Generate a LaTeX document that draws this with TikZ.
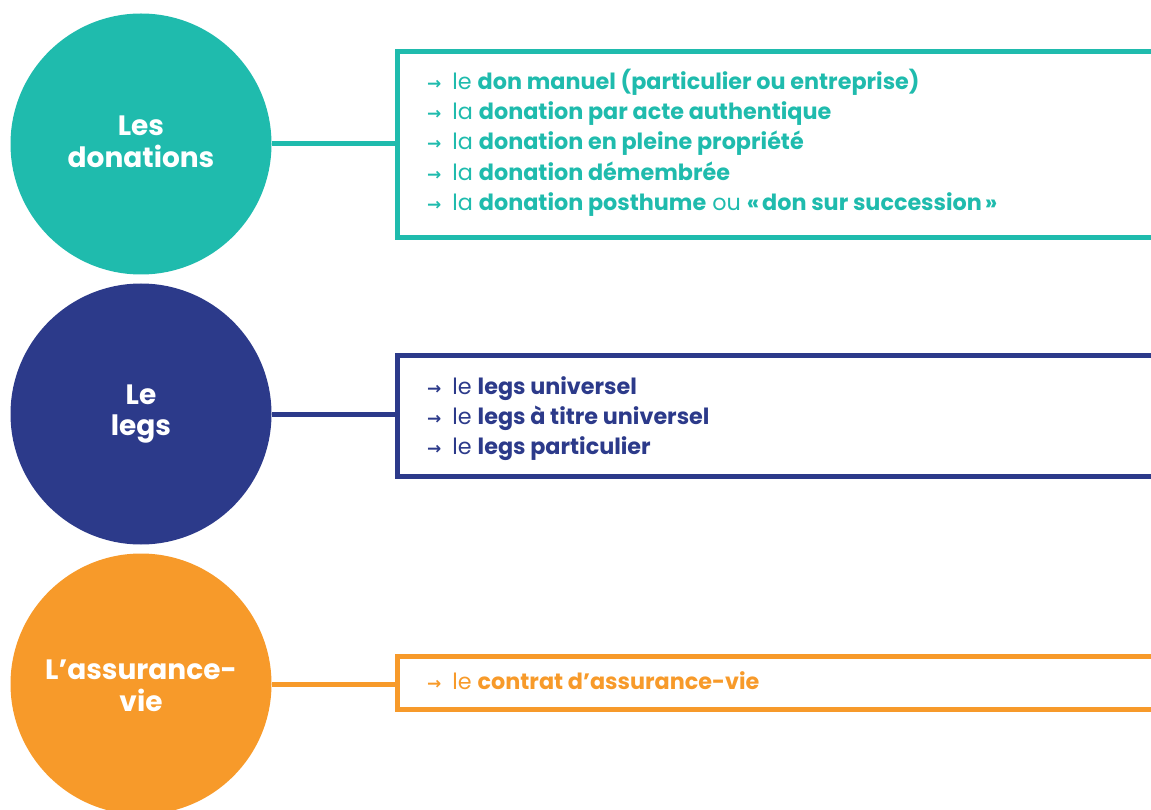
\documentclass[tikz,border=0pt]{standalone}
\usepackage{fontspec}
\setmainfont{Poppins}
\newfontfamily\arrowfont{DejaVu Sans}
\definecolor{teal1}{HTML}{1FBBAD}
\definecolor{navy1}{HTML}{2C3A8A}
\definecolor{orange1}{HTML}{F79A2A}
\newcommand{\itm}[2]{{\arrowfont\bfseries\fontsize{17}{17}\selectfont →}\hspace{11pt}#1 \textbf{#2}}
\begin{document}
\begin{tikzpicture}[x=1pt,y=-1pt,
  bubble/.style={circle,minimum size=261pt,inner sep=0pt,text=white,align=center,
    font=\fontsize{28}{31.5}\selectfont\bfseries},
  listbox/.style={draw=#1,line width=5pt,anchor=west,minimum width=770pt,inner sep=0pt},
  link/.style={draw=#1,line width=5pt},
  listtext/.style={text=#1,anchor=north west,align=left,inner sep=0pt,
    font=\fontsize{22.3}{30.2}\selectfont}]
\useasboundingbox (0,0) rectangle (1151,810);
\begin{scope}
\clip (0,0) rectangle (1151,810);
% circles
\node[bubble,fill=teal1] (c1) at (141,144) {};
\node[bubble,fill=navy1] (c2) at (141,414) {};
\node[bubble,fill=orange1] (c3) at (141,684) {};
\node[bubble,minimum size=0pt] (l1) at (141,142) {Les\\donations};
\node[bubble,minimum size=0pt] (l2) at (141,414) {Le\\legs};
\node[bubble,minimum size=0pt] (l3) at (141,686) {L’assurance-\\vie};
% boxes
\node[listbox=teal1,minimum height=186pt] (b1) at (395,145) {};
\node[listbox=navy1,minimum height=121pt] (b2) at (395,416) {};
\node[listbox=orange1,minimum height=53pt] (b3) at (395,683) {};
% links
\draw[link=teal1] (c1.east) -- (c1.east -| b1.west);
\draw[link=navy1] (c2.east) -- (c2.east -| b2.west);
\draw[link=orange1] (c3.east) -- (c3.east -| b3.west);
% texts
\node[listtext=teal1] (t1) at (427,69) {%
\itm{le}{don manuel (particulier ou entreprise)}\\
\itm{la}{donation par acte authentique}\\
\itm{la}{donation en pleine propriété}\\
\itm{la}{donation démembrée}\\
\itm{la}{donation posthume} ou \textbf{«\hspace{3pt}don sur succession\hspace{3pt}»}};
\node[listtext=navy1] (t2) at (427,376) {%
\itm{le}{legs universel}\\
\itm{le}{legs à titre universel}\\
\itm{le}{legs particulier}};
\node[listtext=orange1] (t3) at (427,671) {%
\itm{le}{contrat d’assurance-vie}};
\end{scope}
\end{tikzpicture}
\end{document}
